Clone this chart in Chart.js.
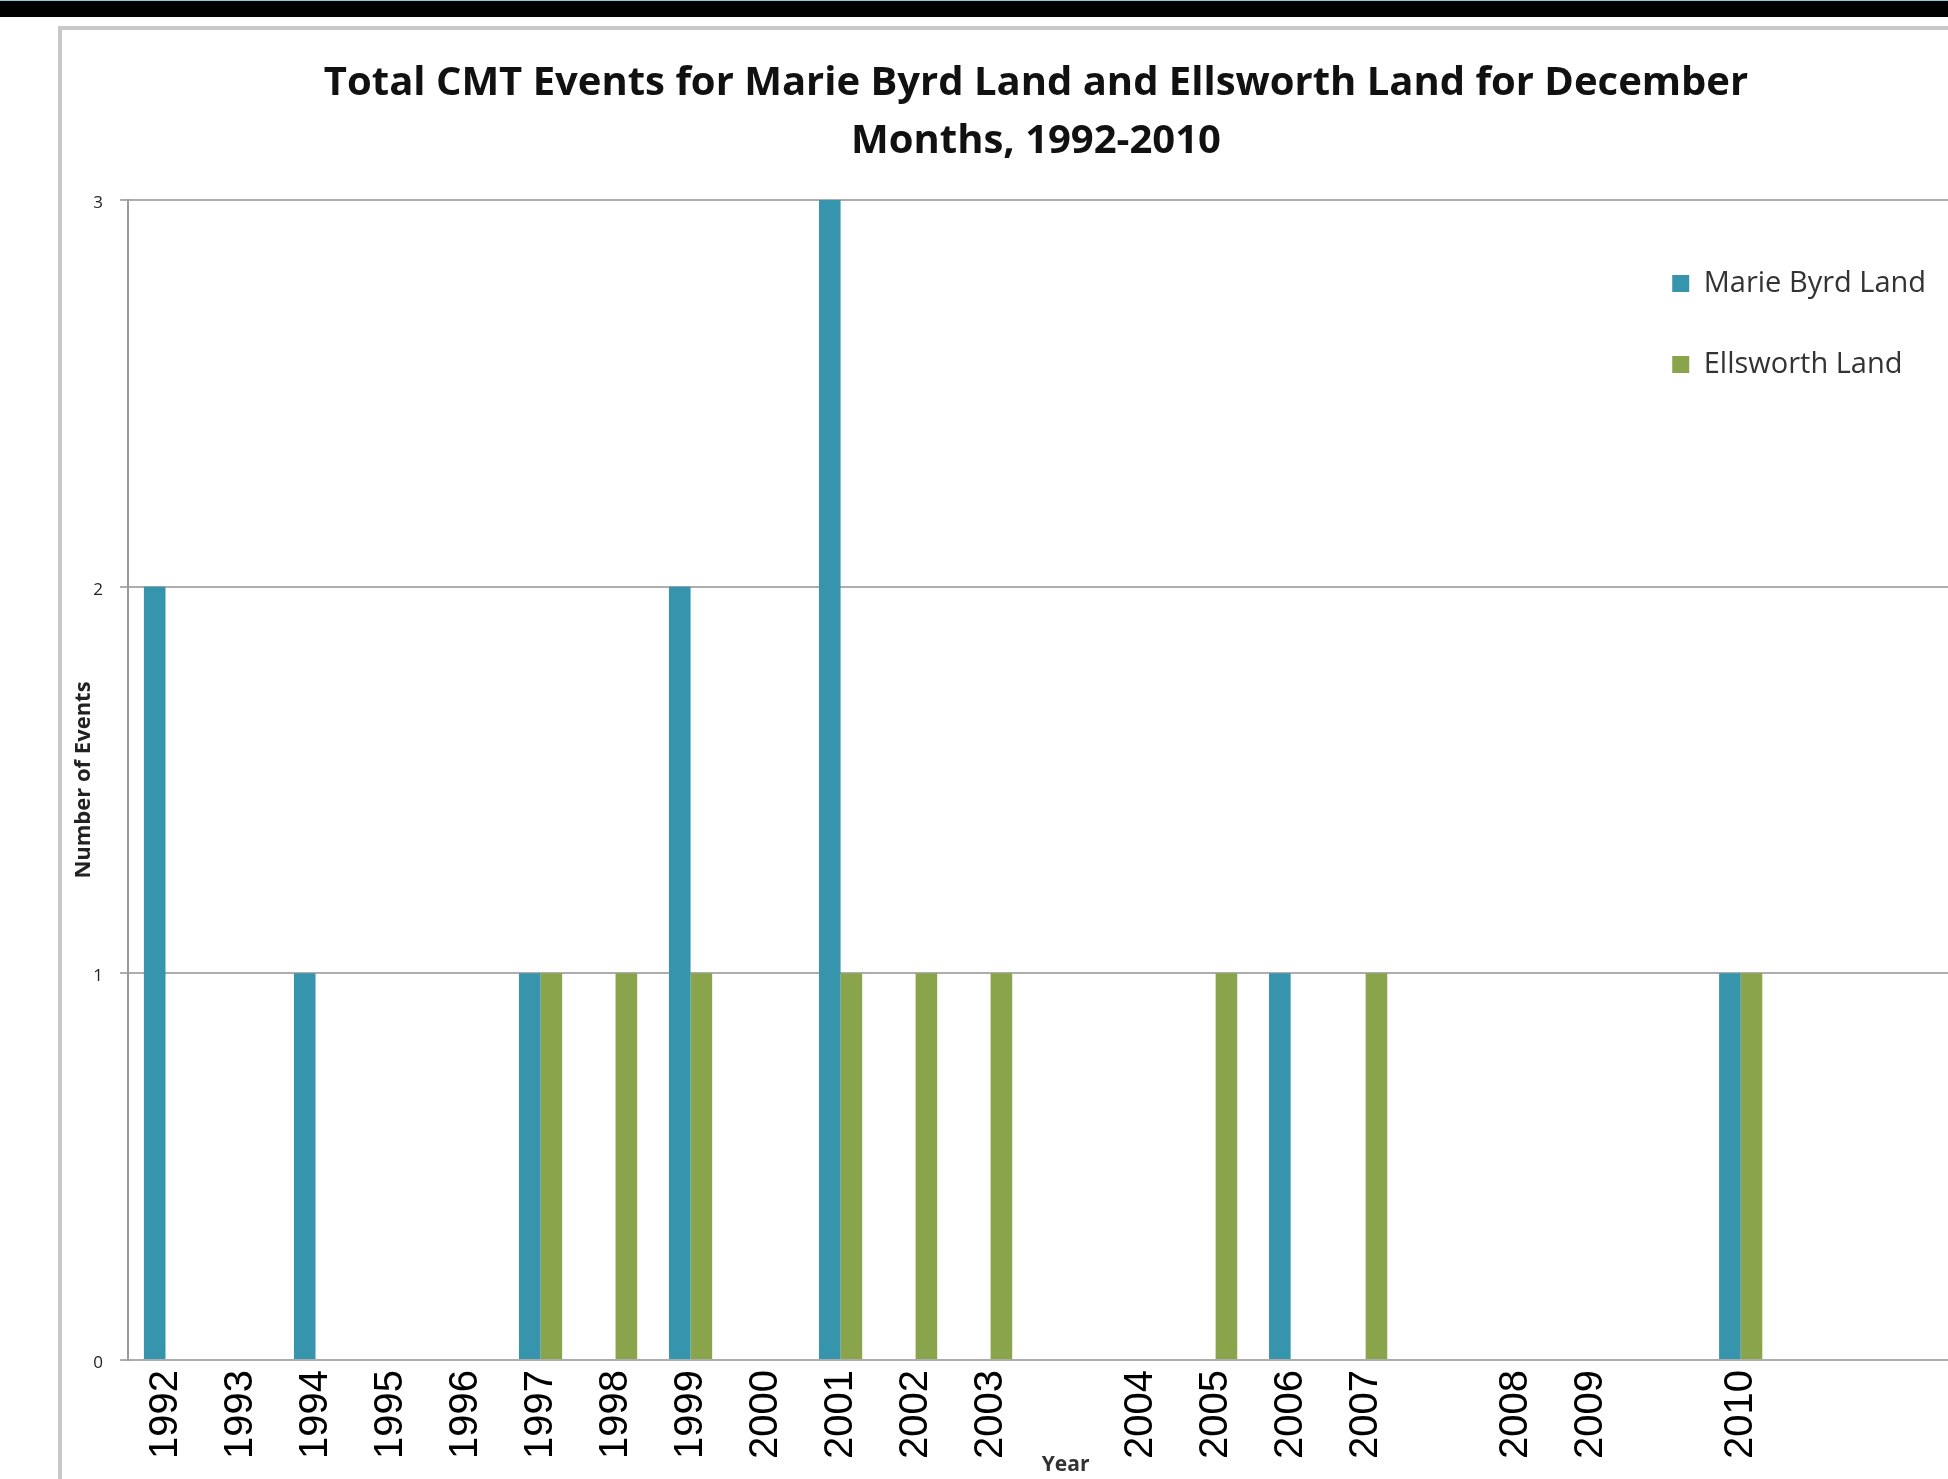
<!DOCTYPE html>
<html>
<head>
<meta charset="utf-8">
<title>Total CMT Events</title>
<script src="https://cdn.jsdelivr.net/npm/chart.js@4.4.1/dist/chart.umd.min.js"></script>
<style>
    html, body { margin: 0; padding: 0; background: #fff; overflow: hidden; width: 1948px; height: 1479px; }
    #topbar { position: absolute; left: 0; top: 0; width: 1948px; height: 17px; background: #000; border-top: 1px solid #8cc8e0; box-sizing: border-box; }
    #panel { position: absolute; left: 58px; top: 26px; width: 2000px; height: 1600px; border-left: 4px solid #c8c8c8; border-top: 4px solid #c8c8c8; box-sizing: border-box; }
    #wrap { position: absolute; left: 62px; top: 30px; }
</style>
</head>
<body>
<div id="topbar"></div>
<div id="panel"></div>
<div id="wrap"><canvas id="chart" width="1962" height="1460"></canvas></div>
<script>
// category slots along the x axis (blank slots carry no year label)
const yearLabels = ['1992', '1993', '1994', '1995', '1996', '1997', '1998', '1999', '2000', '2001', '2002', '2003',
    '', '2004', '2005', '2006', '2007', '', '2008', '2009', '', '2010', '', '', ''];

// number of events per slot
const marieByrd = [2, 0, 1, 0, 0, 1, 0, 2, 0, 3, 0, 0, null, 0, 0, 1, 0, null, 0, 0, null, 1, null, null, null];
const ellsworth = [0, 0, 0, 0, 0, 1, 1, 1, 0, 1, 1, 1, null, 0, 1, 0, 1, null, 0, 0, null, 1, null, null, null];

const seriesNames = ['Marie Byrd Land', 'Ellsworth Land'];
const seriesColors = ['#3794ad', '#8aa44b'];

const titleLines = ['Total CMT Events for Marie Byrd Land and Ellsworth Land for December', 'Months, 1992-2010'];

// put the legend inside the plot, upper right
const legendPlacer = {
    id: 'legendPlacer',
    afterLayout(chart) {
        const lg = chart.legend;
        const area = chart.chartArea;
        lg.left = area.right - 383;
        lg.right = area.right;
        lg.top = area.top + 17;
        lg.bottom = area.bottom;
    }
};

const ctx = document.getElementById('chart');
new Chart(ctx, {
    type: 'bar',
    data: {
        labels: yearLabels,
        datasets: [{
            label: seriesNames[0],
            data: marieByrd,
            backgroundColor: seriesColors[0],
            borderWidth: 0
        }, {
            label: seriesNames[1],
            data: ellsworth,
            backgroundColor: seriesColors[1],
            borderWidth: 0
        }]
    },
    options: {
        responsive: false,
        animation: false,
        categoryPercentage: 0.576,
        barPercentage: 1.0,
        layout: { padding: { left: 0, right: 14, top: 0, bottom: 0 } },
        plugins: {
            title: {
                display: true,
                text: titleLines,
                color: '#111',
                font: { family: '"Open Sans"', weight: 'bold', size: 40, lineHeight: 1.45 },
                padding: { top: 25, bottom: 29 }
            },
            legend: {
                position: 'chartArea',
                align: 'start',
                labels: {
                    boxWidth: 17,
                    boxHeight: 17,
                    padding: 52,
                    color: '#333',
                    font: { family: '"Open Sans"', size: 29 }
                }
            },
            tooltip: { enabled: false }
        },
        scales: {
            x: {
                grid: { display: false, drawTicks: false },
                border: { display: true, color: '#acacac', width: 2 },
                ticks: {
                    autoSkip: false,
                    minRotation: 90,
                    maxRotation: 90,
                    padding: 10,
                    color: '#000',
                    font: { family: '"Liberation Sans", Arial, sans-serif', size: 40 }
                },
                title: {
                    display: true,
                    text: 'Year',
                    color: '#333',
                    font: { family: '"Open Sans"', weight: 'bold', size: 21 },
                    padding: { top: 0, bottom: 12 }
                },
                afterFit(scale) { scale.height = 130; }
            },
            y: {
                min: 0,
                max: 3,
                ticks: {
                    stepSize: 1,
                    padding: 17,
                    labelOffset: 3,
                    color: '#222',
                    font: { family: '"Open Sans"', size: 17 }
                },
                grid: { color: '#adadad', lineWidth: 2, tickLength: 8 },
                border: { color: '#9a9a9a', width: 2 },
                title: {
                    display: true,
                    text: 'Number of Events',
                    color: '#222',
                    font: { family: '"Open Sans"', weight: 'bold', size: 22 },
                    padding: { top: 9, bottom: 0 }
                },
                afterFit(scale) { scale.width = 66; }
            }
        }
    },
    plugins: [legendPlacer]
});
</script>
</body>
</html>
